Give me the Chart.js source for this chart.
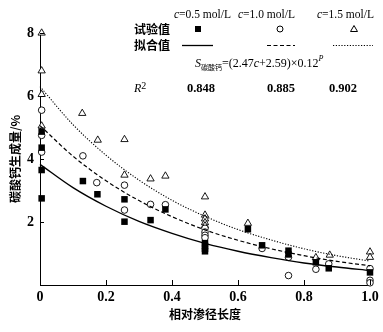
<!DOCTYPE html>
<html>
<head>
<meta charset="utf-8">
<script src="https://cdn.jsdelivr.net/npm/chart.js@4/dist/chart.umd.min.js"></script>
<style>
  body { margin: 0; background: #fff; }
  canvas { display: block; }
</style>
</head>
<body>
<canvas id="grafico" width="383" height="332"></canvas>
<script>
// fitted curves at P = 0, 0.1 ... 1.0
const fitP = [0, 0.1, 0.2, 0.3, 0.4, 0.5, 0.6, 0.7, 0.8, 0.9, 1.0];
const fit05 = [3.83, 3.09, 2.50, 2.02, 1.64, 1.32, 1.07, 0.87, 0.70, 0.57, 0.46];
const fit10 = [5.06, 4.09, 3.31, 2.68, 2.17, 1.75, 1.42, 1.15, 0.93, 0.75, 0.61];
const fit15 = [6.30, 5.09, 4.12, 3.33, 2.69, 2.18, 1.76, 1.43, 1.15, 0.93, 0.76];

// test values (relative path length, CaCO3 %)
const testP05 = [0.005, 0.005, 0.005, 0.005, 0.13, 0.174, 0.256, 0.256, 0.335, 0.38, 0.5, 0.5, 0.5, 0.5, 0.63, 0.673, 0.753, 0.753, 0.836, 0.875, 1.0];
const testS05 = [4.87, 4.36, 3.65, 2.75, 3.30, 2.88, 2.72, 2.01, 2.06, 2.40, 1.33, 1.24, 1.15, 1.07, 1.77, 1.26, 1.09, 0.97, 0.72, 0.53, 0.40];
const testP10 = [0.005, 0.005, 0.005, 0.13, 0.172, 0.256, 0.256, 0.335, 0.38, 0.5, 0.5, 0.5, 0.5, 0.673, 0.753, 0.753, 0.836, 0.875, 1.0, 1.0, 1.0];
const testS10 = [5.55, 4.75, 4.22, 4.10, 3.25, 3.17, 2.38, 2.56, 2.55, 1.80, 1.68, 1.58, 1.50, 1.16, 0.88, 0.30, 0.50, 0.67, 0.52, 0.15, 0.07];
const testP15 = [0.005, 0.005, 0.005, 0.005, 0.128, 0.175, 0.256, 0.256, 0.335, 0.38, 0.5, 0.5, 0.5, 0.5, 0.5, 0.63, 0.836, 0.878, 1.0, 1.0];
const testS15 = [8.0, 6.80, 6.05, 5.05, 5.45, 4.60, 4.62, 3.49, 3.37, 3.46, 2.80, 2.22, 2.10, 1.98, 1.88, 1.96, 0.87, 0.95, 1.05, 0.88];

const xTicks = [0, 0.2, 0.4, 0.6, 0.8, 1.0];
const yTicks = [2, 4, 6, 8];
const concLabels = ["0.5", "1.0", "1.5"];
const r2Values = ["0.848", "0.885", "0.902"];

const pts = (xs, ys) => xs.map((x, i) => ({ x: x, y: ys[i] }));

const SERIF = "'Liberation Serif', 'DejaVu Serif', serif";
const CJK = "'Noto Sans CJK SC', sans-serif";

// inner tick marks + legend table
const extras = {
    id: "extras",
    afterDraw(chart) {
        const ctx = chart.ctx;
        const xs = chart.scales.x, ys = chart.scales.y;
        ctx.save();
        ctx.strokeStyle = "#000";
        ctx.lineWidth = 1;
        xTicks.forEach(v => {
            const px = Math.round(xs.getPixelForValue(v)) + 0.5;
            ctx.beginPath();
            ctx.moveTo(px, ys.bottom);
            ctx.lineTo(px, ys.bottom - 5);
            ctx.stroke();
        });
        yTicks.forEach(v => {
            const py = Math.round(ys.getPixelForValue(v)) + 0.5;
            ctx.beginPath();
            ctx.moveTo(xs.left, py);
            ctx.lineTo(xs.left + 4, py);
            ctx.stroke();
        });

        ctx.fillStyle = "#000";
        ctx.textBaseline = "middle";

        // header: c=... mol/L
        const heads = [174, 238, 317];
        concLabels.forEach((c, i) => {
            ctx.font = "italic 11.5px " + SERIF;
            ctx.textAlign = "left";
            ctx.fillText("c", heads[i], 15);
            const w = ctx.measureText("c").width;
            ctx.font = "11.5px " + SERIF;
            ctx.fillText("=" + c + " mol/L", heads[i] + w, 15);
        });

        ctx.font = "bold 12px " + CJK;
        ctx.fillText("试验值", 134, 29);
        ctx.fillText("拟合值", 134, 45);

        // markers
        ctx.fillRect(195, 26, 6, 6);
        ctx.beginPath();
        ctx.arc(280, 29, 3, 0, Math.PI * 2);
        ctx.stroke();
        ctx.beginPath();
        ctx.moveTo(354, 25.5);
        ctx.lineTo(357.5, 31.5);
        ctx.lineTo(350.5, 31.5);
        ctx.closePath();
        ctx.stroke();

        // line samples
        const sample = (x1, x2, dash, lw) => {
            ctx.setLineDash(dash);
            ctx.lineWidth = lw;
            ctx.beginPath();
            ctx.moveTo(x1, 45.5);
            ctx.lineTo(x2, 45.5);
            ctx.stroke();
        };
        sample(182, 213, [], 1.3);
        sample(267, 295, [4, 2.5], 1.2);
        sample(333, 373, [1.2, 1.6], 1.1);
        ctx.setLineDash([]);

        // formula
        let x = 195;
        const put = (t, f, y) => { ctx.font = f; ctx.fillText(t, x, y); x += ctx.measureText(t).width; };
        put("S", "italic 12px " + SERIF, 64);
        put("碳酸钙", "7px " + CJK, 67);
        put("=(2.47", "12px " + SERIF, 64);
        put("c", "italic 12px " + SERIF, 64);
        put("+2.59)×0.12", "12px " + SERIF, 64);
        put("P", "italic 8px " + SERIF, 59);

        // R2 row
        x = 134;
        put("R", "italic 12px " + SERIF, 89);
        put("2", "10px " + SERIF, 86);
        ctx.font = "bold 12.5px " + SERIF;
        ctx.textAlign = "center";
        [201, 281, 343].forEach((cx, i) => ctx.fillText(r2Values[i], cx, 89));
        ctx.restore();
    }
};

new Chart(document.getElementById("grafico"), {
    type: "scatter",
    data: {
        datasets: [
            { data: pts(fitP, fit05), showLine: true, cubicInterpolationMode: "monotone", borderColor: "#000", borderWidth: 1.4, pointRadius: 0 },
            { data: pts(fitP, fit10), showLine: true, cubicInterpolationMode: "monotone", borderColor: "#000", borderWidth: 1.2, borderDash: [4, 2.5], pointRadius: 0 },
            { data: pts(fitP, fit15), showLine: true, cubicInterpolationMode: "monotone", borderColor: "#000", borderWidth: 1.1, borderDash: [1.2, 1.6], pointRadius: 0 },
            { data: pts(testP05, testS05), pointStyle: "rect", pointRadius: 4.6, backgroundColor: "#000", borderColor: "#000", borderWidth: 0 },
            { data: pts(testP10, testS10), pointStyle: "circle", pointRadius: 3.3, backgroundColor: "#fff", borderColor: "#000", borderWidth: 0.9 },
            { data: pts(testP15, testS15), pointStyle: "triangle", pointRadius: 4.2, backgroundColor: "#fff", borderColor: "#000", borderWidth: 0.9 }
        ]
    },
    options: {
        responsive: false,
        animation: false,
        clip: false,
        layout: { padding: { left: 0, right: 13, top: 33, bottom: 0 } },
        plugins: { legend: { display: false }, tooltip: { enabled: false } },
        scales: {
            x: {
                type: "linear",
                min: 0, max: 1,
                afterFit: s => { s.height = 47; },
                afterBuildTicks: s => { s.ticks = xTicks.map(v => ({ value: v })); },
                ticks: {
                    padding: 4,
                    color: "#000",
                    font: { family: SERIF, size: 14, weight: "bold" },
                    callback: v => v === 0 ? "0" : v.toFixed(1)
                },
                grid: { display: false, drawTicks: false },
                border: { display: true, color: "#000", width: 1 },
                title: {
                    display: true, text: "相对渗径长度", color: "#000",
                    font: { family: CJK, size: 12, weight: "bold" },
                    padding: { top: 0, bottom: 10 }
                }
            },
            y: {
                type: "linear",
                min: 0, max: 8,
                afterFit: s => { s.width = 40; },
                afterBuildTicks: s => { s.ticks = [0].concat(yTicks).map(v => ({ value: v })); },
                ticks: {
                    padding: 6,
                    color: "#000",
                    font: { family: SERIF, size: 14, weight: "bold" },
                    callback: v => v === 0 ? "" : String(v)
                },
                grid: { display: false, drawTicks: false },
                border: { display: true, color: "#000", width: 1 },
                title: {
                    display: true, text: "碳酸钙生成量/%", color: "#000",
                    font: { family: CJK, size: 12, weight: "bold" },
                    padding: { top: 8, bottom: 0 }
                }
            }
        }
    },
    plugins: [extras]
});
</script>
</body>
</html>
